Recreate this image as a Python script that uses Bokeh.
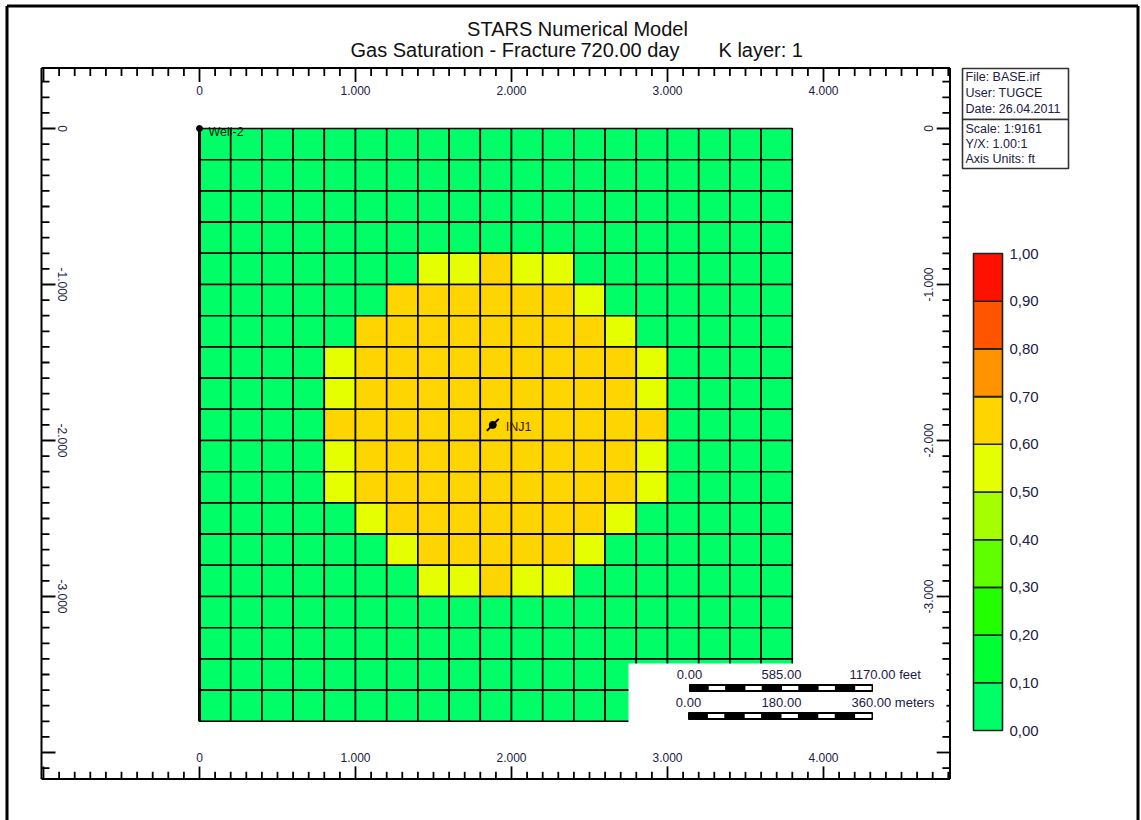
import numpy as np
from bokeh.plotting import figure
from bokeh.models import Range1d, LinearColorMapper, ColumnDataSource
from bokeh.core.properties import value
from bokeh.embed import file_html
from bokeh.resources import INLINE

# ---------------- data ----------------
title_line1 = "STARS Numerical Model"
title_line2_parts = ["Gas Saturation - Fracture", "720.00 day", "K layer: 1"]
info_file = ["File: BASE.irf", "User:  TUGCE", "Date: 26.04.2011"]
info_scale = ["Scale: 1:9161", "Y/X: 1.00:1", "Axis Units: ft"]

x_tick_values = [0, 1000, 2000, 3000, 4000]
x_tick_labels = ["0", "1.000", "2.000", "3.000", "4.000"]
y_tick_values = [0, -1000, -2000, -3000]
y_tick_labels = ["0", "-1.000", "-2.000", "-3.000"]

legend_levels = [0.0, 0.1, 0.2, 0.3, 0.4, 0.5, 0.6, 0.7, 0.8, 0.9, 1.0]
legend_labels = ["0,00", "0,10", "0,20", "0,30", "0,40", "0,50", "0,60", "0,70", "0,80", "0,90", "1,00"]
legend_colors = ["#00FF66", "#00FF33", "#22FF00", "#5FFF00", "#A6FF00",
                 "#E6FF00", "#FFD500", "#FF9400", "#FF5500", "#FF1100"]

well_names = ["Well-2", "INJ1"]
well_x = [0, 1880]
well_y = [0, -1900]

scale_feet_labels = ["0.00", "585.00", "1170.00 feet"]
scale_meter_labels = ["0.00", "180.00", "360.00 meters"]

cell_size = 200.0   # ft
G, Yg, O = 0.03, 0.55, 0.65
sg_rows = [
    [G] * 19,
    [G] * 19,
    [G] * 19,
    [G] * 19,
    [G] * 7 + [Yg, Yg, O, Yg, Yg] + [G] * 7,
    [G] * 6 + [O] * 6 + [Yg] + [G] * 6,
    [G] * 5 + [O] * 8 + [Yg] + [G] * 5,
    [G] * 4 + [Yg] + [O] * 9 + [Yg] + [G] * 4,
    [G] * 4 + [Yg] + [O] * 9 + [Yg] + [G] * 4,
    [G] * 4 + [O] * 11 + [G] * 4,
    [G] * 4 + [Yg] + [O] * 9 + [Yg] + [G] * 4,
    [G] * 4 + [Yg] + [O] * 9 + [Yg] + [G] * 4,
    [G] * 5 + [Yg] + [O] * 7 + [Yg] + [G] * 5,
    [G] * 6 + [Yg] + [O] * 5 + [Yg] + [G] * 6,
    [G] * 7 + [Yg, Yg, O, Yg, Yg] + [G] * 7,
    [G] * 19,
    [G] * 19,
    [G] * 19,
    [G] * 19,
]

# ---------------- layout calibration (page px <-> ft) ----------------
S = 0.156          # px per ft
X0, Y0 = 199.0, 128.0


def fx(px):
    return (px - X0) / S


def fy(py):
    return (Y0 - py) / S


W, H = 1141, 820
p = figure(width=W, height=H,
           x_range=Range1d(fx(0), fx(W)), y_range=Range1d(fy(H), fy(0)),
           output_backend="svg", toolbar_location=None, min_border=0,
           x_axis_location=None, y_axis_location=None)
p.grid.visible = False
p.outline_line_color = None
p.background_fill_color = "white"
p.border_fill_color = "white"

TXT = "#202044"
FONT = "Liberation Sans"


def txt(xs, ys, texts, size, color=TXT, align="left", baseline="middle", angle=0.0, font=FONT):
    p.text(x=xs, y=ys, text=texts, text_font=value(font), text_font_size=value(f"{size}px"),
           text_color=color, text_align=align, text_baseline=baseline, angle=angle)


# outer page border
p.segment(x0=[fx(6.5), fx(6.5), fx(1137.5)], y0=[fy(5.5), fy(5.5), fy(5.5)],
          x1=[fx(6.5), fx(1137.5), fx(1137.5)], y1=[fy(830), fy(5.5), fy(830)],
          line_color="black", line_width=3)

# ---------------- grid cells ----------------
ny = len(sg_rows)
nx = len(sg_rows[0])
cx, cy, val = [], [], []
for j, row in enumerate(sg_rows):
    for i, v in enumerate(row):
        cx.append(cell_size * (i + 0.5))
        cy.append(-cell_size * (j + 0.5))
        val.append(v)
mapper = LinearColorMapper(palette=legend_colors, low=0.0, high=1.0)
src = ColumnDataSource(dict(x=cx, y=cy, v=val))
p.rect(x="x", y="y", width=cell_size, height=cell_size, source=src,
       fill_color={"field": "v", "transform": mapper}, line_color="black", line_width=1.6)
# thick left edge of grid
p.segment(x0=[0], y0=[0], x1=[0], y1=[-cell_size * ny], line_color="black", line_width=3)

# ---------------- rulers ----------------
L, R, T, B = fx(41), fx(949.5), fy(67.5), fy(778.5)
p.segment(x0=[L, L, R, L], y0=[T, T, T, B], x1=[L, R, R, R], y1=[B, T, B, B],
          line_color="black", line_width=2)

xt = np.arange(-1000, 4801, 100)
yt = np.arange(300, -4101, -100)
minor_len, major_len = 8 / S, 14 / S
xlen = np.where(xt % 1000 == 0, major_len, minor_len)
ylen = np.where(yt % 1000 == 0, major_len, minor_len)
p.segment(x0=xt, y0=[T] * len(xt), x1=xt, y1=T - xlen, line_color="black", line_width=1.8)
p.segment(x0=xt, y0=[B] * len(xt), x1=xt, y1=B + xlen * 0.9, line_color="black", line_width=1.8)
p.segment(x0=[L] * len(yt), y0=yt, x1=L + ylen, y1=yt, line_color="black", line_width=1.8)
p.segment(x0=[R] * len(yt), y0=yt, x1=R - ylen * 0.95, y1=yt, line_color="black", line_width=1.8)

txt(x_tick_values, [fy(90)] * 5, x_tick_labels, 12, align="center")
txt(x_tick_values, [fy(757)] * 5, x_tick_labels, 12, align="center")
txt([fx(62)] * 4, y_tick_values, y_tick_labels, 12, align="center", angle=-np.pi / 2)
txt([fx(928)] * 4, y_tick_values, y_tick_labels, 12, align="center", angle=np.pi / 2)

# ---------------- wells ----------------
p.scatter(x=[well_x[0]], y=[well_y[0]], size=6, color="black")
txt([well_x[0] + 9 / S], [well_y[0] - 3 / S], [well_names[0]], 12.5, color="#102010")
d = 6 / S
p.segment(x0=[well_x[1] - d], y0=[well_y[1] - d], x1=[well_x[1] + d], y1=[well_y[1] + d],
          line_color="black", line_width=2)
p.scatter(x=[well_x[1]], y=[well_y[1]], size=7, color="black")
txt([well_x[1] + 13 / S], [well_y[1] - 2 / S], [well_names[1]], 12.5, color="#3a1a10")

# ---------------- scale bar ----------------
p.quad(left=[fx(628)], right=[fx(946)], top=[fy(663)], bottom=[fy(722)],
       fill_color="white", line_color=None)
txt([fx(689), fx(781)], [fy(674)] * 2, scale_feet_labels[:2], 13, align="center")
txt([fx(849)], [fy(674)], scale_feet_labels[2:], 13)
txt([fx(688), fx(781)], [fy(702)] * 2, scale_meter_labels[:2], 13, align="center")
txt([fx(851)], [fy(702)], scale_meter_labels[2:], 13)
for (bl, br, bt, bb) in [(689, 872, 684, 691), (688, 872, 712, 719)]:
    p.quad(left=[fx(bl)], right=[fx(br)], top=[fy(bt)], bottom=[fy(bb)],
           fill_color="black", line_color="black", line_width=1)
    seg = (br - bl) / 10.0
    wl = [fx(bl + seg * k + 1) for k in range(1, 10, 2)]
    wr = [fx(bl + seg * (k + 1) - 1) for k in range(1, 10, 2)]
    p.quad(left=wl, right=wr, top=[fy(bt + 1.5)] * 5, bottom=[fy(bb - 1.5)] * 5,
           fill_color="white", line_color=None)

# ---------------- info boxes ----------------
p.quad(left=[fx(962), fx(962)], right=[fx(1068), fx(1068)],
       top=[fy(68), fy(119)], bottom=[fy(119), fy(168)],
       fill_color="white", line_color="#333333", line_width=1.6)
txt([fx(965)] * 3, [fy(76), fy(92), fy(108)], info_file, 12.5)
txt([fx(965)] * 3, [fy(128), fy(143), fy(158)], info_scale, 12.5)

# ---------------- legend ----------------
lp_top, lp_bot = 253.0, 730.0


def ly(v):
    return fy(lp_bot - (lp_bot - lp_top) * v)


p.quad(left=[fx(973)] * 10, right=[fx(1002)] * 10,
       bottom=[ly(v) for v in legend_levels[:-1]], top=[ly(v) for v in legend_levels[1:]],
       fill_color=legend_colors, line_color="#222222", line_width=1.6)
txt([fx(1009)] * 11, [ly(v) for v in legend_levels], legend_labels, 15)

# ---------------- title ----------------
txt([fx(577)], [fy(28)], [title_line1], 20, color="#111111", align="center")
txt([fx(350), fx(580), fx(718)], [fy(49)] * 3, title_line2_parts, 20, color="#111111")

open("out.html", "w").write(file_html(p, INLINE))
